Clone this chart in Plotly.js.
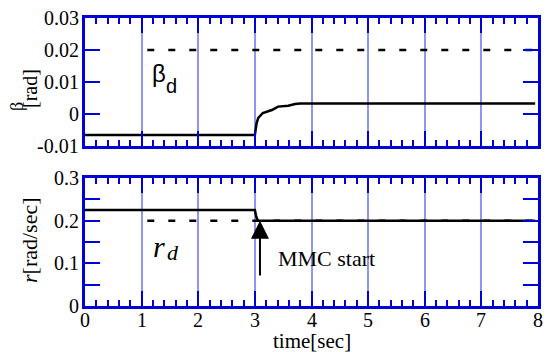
<!DOCTYPE html>
<html>
<head>
<meta charset="utf-8">
<script src="https://cdn.plot.ly/plotly-3.0.1.min.js"></script>
<style>html,body{margin:0;padding:0;background:#fff;}#chart{width:553px;height:352px;}</style>
</head>
<body>
<div id="chart"></div>
<script>
// ---- data ----
const tBeta = [0, 3.0, 3.03, 3.06, 3.14, 3.30, 3.41, 3.59, 3.71, 3.8, 7.95];
const beta  = [-0.0066, -0.0066, -0.0029, -0.00125, 0.0003, 0.00125, 0.0023, 0.0026, 0.0031, 0.0033, 0.0033];
const tBetaD = [1.1, 8];
const betaD  = [0.02, 0.02];

const tR = [0, 3.0, 3.02, 3.05, 7.95];
const r  = [0.225, 0.225, 0.212, 0.2, 0.2];
const tRD = [1.1, 8];
const rD  = [0.2, 0.2];

const xTickVals = [0, 1, 2, 3, 4, 5, 6, 7, 8];
const xTickText = ['0', '1', '2', '3', '4', '5', '6', '7', '8'];
const betaTickVals = [-0.01, 0, 0.01, 0.02, 0.03];
const betaTickText = ['-0.01', '0', '0.01', '0.02', '0.03'];
const rTickVals = [0, 0.05, 0.1, 0.15, 0.2, 0.25, 0.3];
const rTickText = ['0', '', '0.1', '', '0.2', '', '0.3'];

const BLUE = '#0000d8';
const GRID = 'rgba(40,40,230,0.5)';
const SERIF = 'Liberation Serif';
const SANS = 'Liberation Sans';
const TICKFONT = {family: SERIF, size: 20, color: '#000'};

const xBase = {
  range: [0, 8], tickmode: 'array', tickvals: xTickVals, showticklabels: false,
  ticks: 'inside', ticklen: 15, tickwidth: 2, tickcolor: BLUE,
  showline: true, linecolor: BLUE, linewidth: 3, mirror: 'allticks',
  showgrid: true, gridcolor: GRID, gridwidth: 2, zeroline: false,
  minor: {dtick: 0.2, tick0: 0, ticks: 'inside', ticklen: 6, tickwidth: 2, tickcolor: BLUE, showgrid: false}
};
const yBase = {
  tickmode: 'array', showticklabels: false,
  ticks: 'inside', ticklen: 15, tickwidth: 2, tickcolor: BLUE,
  showline: true, linecolor: BLUE, linewidth: 3, mirror: 'allticks',
  showgrid: false, zeroline: false
};

const traces = [
  {x: tBetaD, y: betaD, xaxis: 'x', yaxis: 'y', mode: 'lines', line: {color: '#000', width: 2.5, dash: '7px,14px'}, hoverinfo: 'skip'},
  {x: tBeta, y: beta, xaxis: 'x', yaxis: 'y', mode: 'lines', line: {color: '#000', width: 2.5}, hoverinfo: 'skip'},
  {x: tRD, y: rD, xaxis: 'x2', yaxis: 'y2', mode: 'lines', line: {color: '#000', width: 2.5, dash: '7px,14px'}, hoverinfo: 'skip'},
  {x: tR, y: r, xaxis: 'x2', yaxis: 'y2', mode: 'lines', line: {color: '#000', width: 2.5}, hoverinfo: 'skip'}
];

// tick labels drawn as annotations (positioned by the axes)
const tickAnns = [];
xTickVals.forEach((v, i) => tickAnns.push({
  text: xTickText[i], xref: 'x2', yref: 'paper', x: v, y: (306 - 320) / 288,
  xanchor: 'center', yanchor: 'middle', showarrow: false, borderpad: 0, font: TICKFONT}));
betaTickVals.forEach((v, i) => tickAnns.push({
  text: betaTickText[i], xref: 'paper', yref: 'y', x: (81 - 85) / 453, y: v,
  xanchor: 'right', yanchor: 'middle', showarrow: false, font: TICKFONT}));
rTickVals.forEach((v, i) => { if (rTickText[i]) tickAnns.push({
  text: rTickText[i], xref: 'paper', yref: 'y2', x: (81 - 85) / 453, y: v,
  xanchor: 'right', yanchor: 'middle', showarrow: false, font: TICKFONT}); });

const layout = {
  width: 553, height: 352,
  margin: {l: 85, r: 15, t: 18, b: 46},
  paper_bgcolor: '#fff', plot_bgcolor: '#fff',
  showlegend: false,
  font: {family: SERIF, color: '#000', size: 20},
  xaxis: Object.assign({}, xBase, {anchor: 'y'}),
  xaxis2: Object.assign({}, xBase, {anchor: 'y2'}),
  yaxis: Object.assign({}, yBase, {domain: [0.5556, 1], anchor: 'x', range: [-0.01, 0.03], tickvals: betaTickVals}),
  yaxis2: Object.assign({}, yBase, {domain: [0, 0.4444], anchor: 'x2', range: [0, 0.3], tickvals: rTickVals}),
  annotations: tickAnns.concat([
    {text: 'β', xref: 'x', yref: 'y', x: 1.31, y: 0.0125, showarrow: false,
     font: {family: SANS, size: 24, color: '#000'}},
    {text: 'd', xref: 'x', yref: 'y', x: 1.52, y: 0.0088, showarrow: false,
     font: {family: SANS, size: 20, color: '#000'}},
    {text: '<i>r</i>', xref: 'x2', yref: 'y2', x: 1.3, y: 0.14, showarrow: false,
     font: {family: SERIF, size: 30, color: '#000'}},
    {text: '<i>d</i>', xref: 'x2', yref: 'y2', x: 1.55, y: 0.125, showarrow: false,
     font: {family: SERIF, size: 22, color: '#000'}},
    {text: '', xref: 'x2', yref: 'y2', x: 3.09, y: 0.2, axref: 'x2', ayref: 'y2', ax: 3.09, ay: 0.068,
     showarrow: true, arrowhead: 2, arrowsize: 1.8, arrowwidth: 2, arrowcolor: '#000', standoff: 0},
    {text: 'MMC start', xref: 'x2', yref: 'y2', x: 4.265, y: 0.1125, showarrow: false,
     font: {family: SERIF, size: 22, color: '#000'}},
    {text: 'time[sec]', xref: 'paper', yref: 'paper', x: 0.5, y: (306 - 341) / 288, yanchor: 'middle', showarrow: false,
     borderpad: 0, font: {family: SERIF, size: 21, color: '#000'}},
    {text: '<i>r</i>[rad/sec]', xref: 'paper', yref: 'paper', x: (29 - 85) / 453, y: (306 - 240) / 288,
     xanchor: 'center', yanchor: 'middle', textangle: -90, showarrow: false,
     font: {family: SERIF, size: 22, color: '#000'}},
    {text: 'β', xref: 'paper', yref: 'paper', x: (17 - 85) / 453, y: (306 - 107) / 288,
     xanchor: 'center', yanchor: 'middle', textangle: -90, showarrow: false,
     font: {family: SERIF, size: 18, color: '#000'}},
    {text: '[rad]', xref: 'paper', yref: 'paper', x: (30 - 85) / 453, y: (306 - 89) / 288,
     xanchor: 'center', yanchor: 'middle', textangle: -90, showarrow: false,
     font: {family: SERIF, size: 20, color: '#000'}}
  ])
};

Plotly.newPlot('chart', traces, layout, {staticPlot: true, displayModeBar: false});
</script>
</body>
</html>
